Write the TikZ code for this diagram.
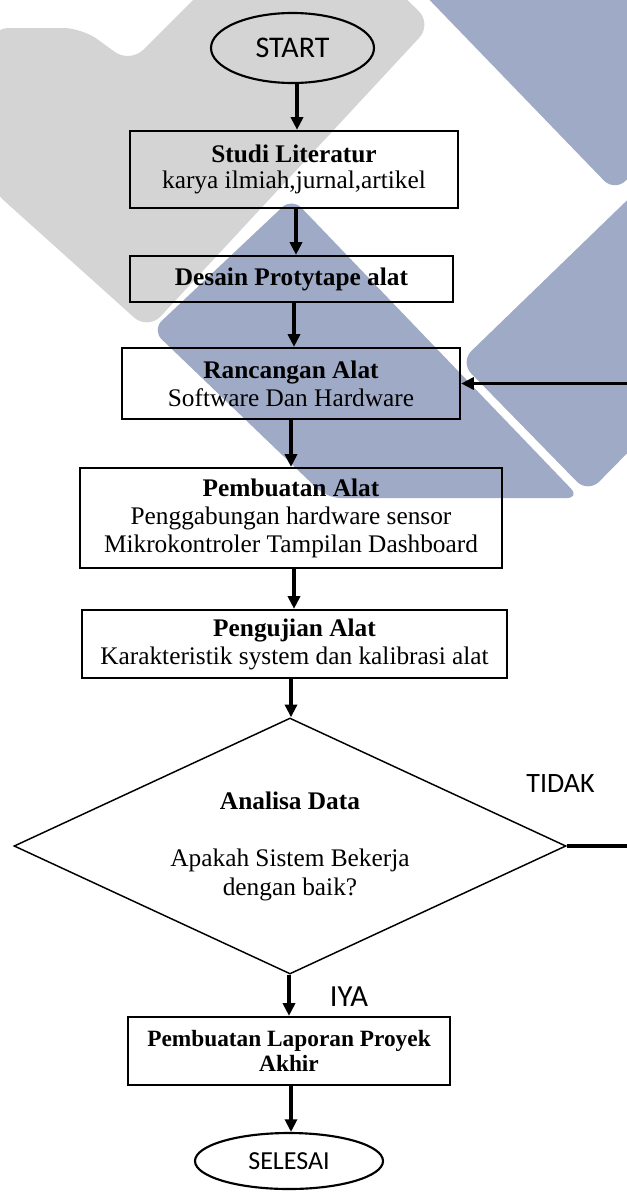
\documentclass[tikz,border=0pt]{standalone}
\usepackage{fontspec}
\setmainfont{Liberation Serif}
\newfontfamily\labelfont{Carlito}
\usetikzlibrary{shapes.geometric,arrows.meta}
\definecolor{wmgray}{RGB}{212,212,212}
\definecolor{wmblue}{RGB}{159,170,198}
\newcommand\pxu{0.75pt}

\begin{document}
\begin{tikzpicture}[x=0.75pt,y=-0.75pt,
  stepbox/.style={draw, line width=1.7pt, rectangle, inner sep=0pt, align=center,
    font=\fontsize{19}{21}\selectfont},
  terminal/.style={draw, ellipse, line width=1.6pt, inner sep=0pt,
    font=\labelfont\fontsize{22.5}{24}\selectfont},
  decision/.style={draw, diamond, line width=1.1pt, inner sep=0pt, aspect=2, align=center,
    font=\fontsize{19}{21.75}\selectfont},
  arr/.style={line width=2.6pt, -{Triangle[length=9.5pt,width=9pt]}},
  flowlabel/.style={font=\labelfont\fontsize{21}{24}\selectfont, inner sep=0pt, anchor=base}
]
\useasboundingbox (0,0) rectangle (627,1192);
\clip (0,0) rectangle (627,1192);
\fill[white] (0,0) rectangle (627,1192);

% background logo shapes
\fill[wmgray, rounded corners=14pt] (-10,28) -- (82,28) -- (130,63) -- (205,-12)
  -- (395,-12) -- (432,24) -- (148,330) -- (-10,188) -- cycle;
\fill[wmblue, rounded corners=12pt] (418,-12) -- (650,-12) -- (650,155) -- (615,192) -- cycle;
\fill[wmblue, rounded corners=12pt] (648,180) -- (460,362) -- (588,493) -- (648,432) -- cycle;
\fill[wmblue, rounded corners=10pt] (292,198) -- (580,498) -- (327,498) -- (152,330) -- cycle;

% flow steps
\node[terminal, minimum width=163*\pxu, minimum height=70*\pxu] (start) at (292.5,48) {START};
\node[stepbox, minimum width=328*\pxu, minimum height=77*\pxu, font=\fontsize{19}{20}\selectfont]
  (studi) at (294,169.5) {\textbf{Studi Literatur}\\karya ilmiah,jurnal,artikel};
\node[stepbox, minimum width=323*\pxu, minimum height=46*\pxu] (desain) at (291.5,279)
  {\textbf{Desain Protytape alat}};
\node[stepbox, minimum width=338*\pxu, minimum height=71*\pxu] (ranc) at (291,383.5)
  {\textbf{Rancangan Alat}\\Software Dan Hardware};
\node[stepbox, minimum width=422*\pxu, minimum height=100*\pxu] (pemb) at (291,518)
  {\textbf{Pembuatan Alat}\\Penggabungan hardware sensor\\Mikrokontroler Tampilan Dashboard};
\node[stepbox, minimum width=425*\pxu, minimum height=68*\pxu] (peng) at (294.5,644)
  {\textbf{Pengujian Alat}\\Karakteristik system dan kalibrasi alat};
\node[decision, minimum width=552*\pxu, minimum height=256*\pxu] (dec) at (290,846)
  {\textbf{Analisa Data}\\[21pt]Apakah Sistem Bekerja\\dengan baik?};
\node[stepbox, minimum width=322*\pxu, minimum height=68*\pxu, font=\fontsize{17.5}{19}\selectfont]
  (lap) at (289,1051) {\textbf{Pembuatan Laporan Proyek}\\\textbf{Akhir}};
\node[terminal, minimum width=188*\pxu, minimum height=56*\pxu,
  font=\labelfont\fontsize{19.5}{20}\selectfont] (sel) at (289,1161) {SELESAI};

% branch labels
\node[flowlabel] (tidak) at (560.5,792) {TIDAK};
\node[flowlabel, font=\labelfont\fontsize{23}{24}\selectfont] (iya) at (349,1006) {IYA};

% connectors
\draw[arr] ([xshift=3.375pt]start.south) -- ([xshift=2.25pt]studi.north);
\draw[arr] ([xshift=1.5pt]studi.south) -- ([xshift=3.375pt]desain.north);
\draw[arr] ([xshift=1.875pt]desain.south) -- ([xshift=2.25pt]ranc.north);
\draw[arr] (ranc.south) -- (pemb.north);
\draw[arr] ([xshift=2.25pt]pemb.south) -- ([xshift=-0.375pt]peng.north);
\draw[arr] ([xshift=-2.625pt]peng.south) -- ([xshift=0.75pt]dec.north);
\draw[arr] ([xshift=-0.75pt]dec.south) -- (lap.north);
\draw[arr] ([xshift=1.5pt]lap.south) -- ([xshift=1.5pt]sel.north);
\draw[arr] (dec.east) -- (660,846) -- (660,383.5) -- (ranc.east);
\end{tikzpicture}
\end{document}
